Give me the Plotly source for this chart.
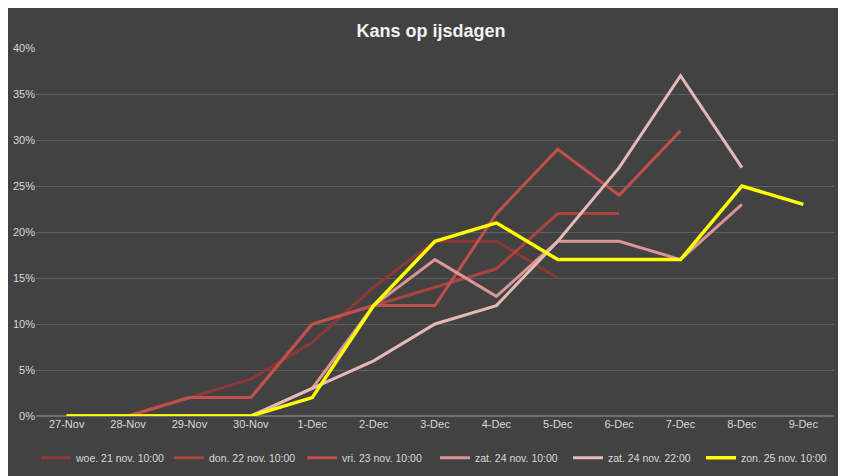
import plotly.graph_objects as go

dates = ["27-Nov","28-Nov","29-Nov","30-Nov","1-Dec","2-Dec","3-Dec","4-Dec","5-Dec","6-Dec","7-Dec","8-Dec","9-Dec"]
woe = [0,0,2,4,8,14,19,19,15]
don = [0,0,2,2,10,12,14,16,22,22]
vri = [0,0,2,2,10,12,12,22,29,24,31]
zat10 = [0,0,0,0,3,12,17,13,19,19,17,23]
zat22 = [0,0,0,0,3,6,10,12,19,27,37,27]
zon = [0,0,0,0,2,12,19,21,17,17,17,25,23]

series = [
    ("woe. 21 nov. 10:00", woe, "#8C3836"),
    ("don. 22 nov. 10:00", don, "#A9443F"),
    ("vri. 23 nov. 10:00", vri, "#C0504D"),
    ("zat. 24 nov. 10:00", zat10, "#D99694"),
    ("zat. 24 nov. 22:00", zat22, "#E6B9B8"),
    ("zon. 25 nov. 10:00", zon, "#FFFF00"),
]

fig = go.Figure()
for name, vals, col in series:
    fig.add_trace(go.Scatter(x=dates[:len(vals)], y=[v/100 for v in vals], name=name,
                             mode="lines", line=dict(color=col, width=3.5 if col=="#FFFF00" else 3)))

fig.update_layout(
    width=846, height=476,
    paper_bgcolor="#424242", plot_bgcolor="rgba(0,0,0,0)",
    margin=dict(l=28, r=20, t=40, b=68, autoexpand=False),
    title=dict(text="<b>Kans op ijsdagen</b>", x=0.5, y=0.965, xanchor="center",
               font=dict(family="Liberation Sans", size=18, color="#F2F2F2")),
    font=dict(family="Liberation Sans", size=11, color="#D9D9D9"),
    xaxis=dict(type="category", categoryorder="array", categoryarray=dates, range=[-0.5, 12.5],
               showgrid=False, showline=False, ticks="", tickfont=dict(size=11, color="#D9D9D9")),
    yaxis=dict(range=[0, 0.4], dtick=0.05, tickformat=".0%", gridcolor="#5E5E5E", gridwidth=1,
               zeroline=True, zerolinecolor="#6E6E6E", ticks="", tickfont=dict(size=11, color="#D9D9D9")),
    legend=dict(orientation="h", x=0.5, xanchor="center", yref="container", y=0.055, yanchor="middle",
                font=dict(size=10.5, color="#D9D9D9"), itemwidth=30, entrywidth=88, entrywidthmode="pixels"),
)
fig.write_html("out.html")
